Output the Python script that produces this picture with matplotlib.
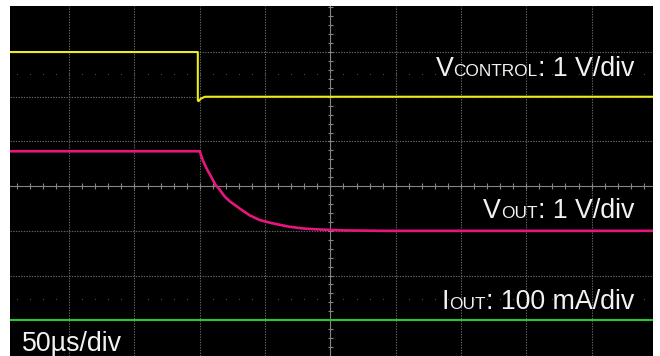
import matplotlib
matplotlib.use("Agg")
import matplotlib.pyplot as plt

# ---- data (time in µs, amplitude in divisions) ----
t_control = [-250, -101.5, -101.5, -101, -99, -96, 250]
v_control = [3.0, 3.0, 1.92, 1.9, 1.96, 2.0, 2.0]

t_out = [-250, -100, -98, -96, -94, -92, -88, -85, -81, -77, -69, -62, -54, -46,
         -38, -31, -20, -8, 10, 40, 100, 250]
v_out = [0.78, 0.78, 0.6, 0.47, 0.35, 0.25, 0.03, -0.07, -0.23, -0.34, -0.51, -0.65,
         -0.76, -0.82, -0.87, -0.91, -0.95, -0.97, -0.99, -1.0, -1.0, -1.0]

t_iout = [-250, 250]
v_iout = [-3.0, -3.0]

grid_t = [-200, -150, -100, -50, 50, 100, 150, 200]
grid_v = [-3, -2, -1, 1, 2, 3]

labels = [
    ([("V", "big"), ("CONTROL", "small"), (": 1 V/div", "big")], 634, 76),
    ([("V", "big"), ("OUT", "small"), (": 1 V/div", "big")], 634, 218),
    ([("I", "big"), ("OUT", "small"), (": 100 mA/div", "big")], 634, 309),
]
timebase = "50µs/div"

W, H = 660, 356
fig = plt.figure(figsize=(W / 100, H / 100), dpi=100, facecolor="white")
ax = fig.add_axes([10 / W, 0, 643 / W, 350 / H])
ax.set_facecolor("black")
ax.set_xlim(-245.3, 247)
ax.set_ylim(-3.80, 4.03)
ax.set_xticks([])
ax.set_yticks([])
for s in ax.spines.values():
    s.set_visible(False)

gcol = "#656565"
for t in grid_t:
    ax.axvline(t, color=gcol, lw=0.8, ls=(0, (1.2, 1.2)), zorder=1)
for v in grid_v:
    ax.axhline(v, color=gcol, lw=0.8, ls=(0, (1.2, 1.2)), zorder=1)
# center cross with ticks
ccol = "#858585"
ax.axvline(0, color=ccol, lw=0.8, zorder=1)
ax.axhline(0, color=ccol, lw=0.8, zorder=1)
tk = [i * 10 for i in range(-25, 26)]
ax.vlines(tk, -0.06, 0.06, color=ccol, lw=0.8, zorder=1)
vk = [i * 0.2 for i in range(-20, 21)]
ax.hlines(vk, -2.2, 2.2, color=ccol, lw=0.8, zorder=1)
# faint dotted marker rows
for v in (2.5, -2.53):
    ax.plot(tk, [v] * len(tk), ls="none", marker="s", ms=0.8, mew=0,
            color="#4a4a4a", zorder=1)

ax.plot(t_control, v_control, color="#ecec1e", lw=1.5, zorder=3)
ax.plot(t_out, v_out, color="#e8157c", lw=1.9, zorder=3, solid_joinstyle="round")
ax.plot(t_iout, v_iout, color="#28c828", lw=1.5, zorder=3)

fam = ["Liberation Sans", "DejaVu Sans"]
sizes = {"big": 19.3, "small": 12.4}
txtcol = "#f2f2f2"
fig.canvas.draw()
r = fig.canvas.get_renderer()
for parts, xr, yb in labels:
    x = xr
    for s, sz in reversed(parts):
        tt = fig.text(x / W, 1 - yb / H, s, ha="right", va="baseline",
                      fontsize=sizes[sz], family=fam, color=txtcol, zorder=5)
        bb = tt.get_window_extent(renderer=r)
        x = bb.x0
fig.text(22 / W, 1 - 351 / H, timebase, ha="left", va="baseline",
         fontsize=19.3, family=fam, color=txtcol)

fig.savefig("out.png", dpi=100, facecolor="white")
